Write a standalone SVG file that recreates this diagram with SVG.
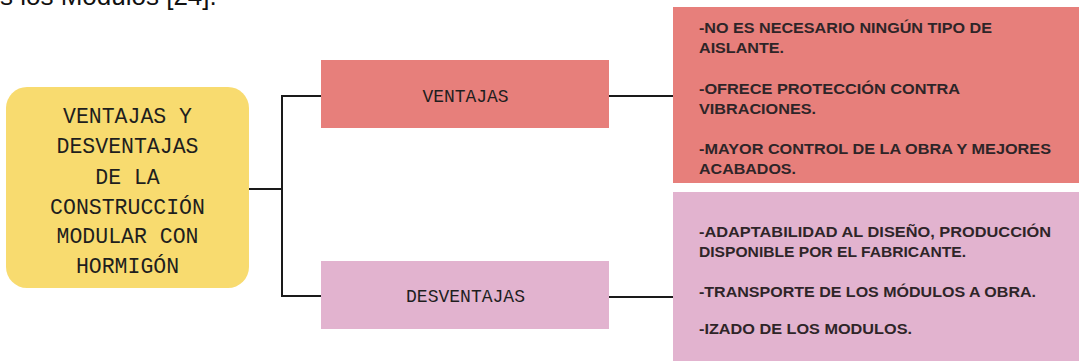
<svg xmlns="http://www.w3.org/2000/svg" width="1079" height="361" viewBox="0 0 1079 361">
<style>
.mono{font-family:"Liberation Mono","DejaVu Sans Mono",monospace;fill:#1e1e1e;}
.title{font-size:21.5px;text-anchor:middle;}
.lbl{font-size:18px;text-anchor:middle;}
.body{font-family:"Liberation Sans","Noto Sans",sans-serif;font-size:14px;fill:#2e2528;font-weight:bold;}
.conn{fill:none;stroke:#1a1a1a;stroke-width:2;}
</style>
<rect width="1079" height="361" fill="#ffffff"/>
<text x="0" y="5" font-family="Liberation Sans, Arial, sans-serif" font-size="26" fill="#111">s los Módulos [24].</text>
<g id="connectors">
<path class="conn" d="M249 189 H282 M321 96 H282 V296 H321"/>
<path class="conn" d="M609 96 H673"/>
<path class="conn" d="M609 297 H673"/>
</g>
<g id="node-title">
<rect x="6" y="87" width="243" height="201" rx="21" fill="#F8DB6F"/>
<text class="mono title" x="127.5" y="122.5">VENTAJAS Y</text>
<text class="mono title" x="127.5" y="153">DESVENTAJAS</text>
<text class="mono title" x="127.5" y="183.5">DE LA</text>
<text class="mono title" x="127.5" y="213.5">CONSTRUCCIÓN</text>
<text class="mono title" x="127.5" y="243">MODULAR CON</text>
<text class="mono title" x="127.5" y="273">HORMIGÓN</text>
</g>
<g id="node-ventajas">
<rect x="321" y="60" width="288" height="68" fill="#E77F7B"/>
<text class="mono lbl" x="465.5" y="102" textLength="86" lengthAdjust="spacingAndGlyphs">VENTAJAS</text>
</g>
<g id="node-desventajas">
<rect x="321" y="261" width="288" height="68" fill="#E2B3CF"/>
<text class="mono lbl" x="465.5" y="302" textLength="119" lengthAdjust="spacingAndGlyphs">DESVENTAJAS</text>
</g>
<g id="node-ventajas-list">
<rect x="673" y="7" width="406" height="176" fill="#E77F7B"/>
<text class="body" x="699" y="33" textLength="293" lengthAdjust="spacingAndGlyphs">-NO ES NECESARIO NINGÚN TIPO DE</text>
<text class="body" x="699" y="53" textLength="85" lengthAdjust="spacingAndGlyphs">AISLANTE.</text>
<text class="body" x="699" y="93.5" textLength="261" lengthAdjust="spacingAndGlyphs">-OFRECE PROTECCIÓN CONTRA</text>
<text class="body" x="699" y="113.5" textLength="117" lengthAdjust="spacingAndGlyphs">VIBRACIONES.</text>
<text class="body" x="699" y="153.5" textLength="352" lengthAdjust="spacingAndGlyphs">-MAYOR CONTROL DE LA OBRA Y MEJORES</text>
<text class="body" x="699" y="173.5" textLength="97" lengthAdjust="spacingAndGlyphs">ACABADOS.</text>
</g>
<g id="node-desventajas-list">
<rect x="673" y="192" width="406" height="169" fill="#E2B3CF"/>
<text class="body" x="699" y="236.5" textLength="352" lengthAdjust="spacingAndGlyphs">-ADAPTABILIDAD AL DISEÑO, PRODUCCIÓN</text>
<text class="body" x="699" y="256.5" textLength="267" lengthAdjust="spacingAndGlyphs">DISPONIBLE POR EL FABRICANTE.</text>
<text class="body" x="699" y="297" textLength="337" lengthAdjust="spacingAndGlyphs">-TRANSPORTE DE LOS MÓDULOS A OBRA.</text>
<text class="body" x="699" y="334" textLength="213" lengthAdjust="spacingAndGlyphs">-IZADO DE LOS MODULOS.</text>
</g>
</svg>
